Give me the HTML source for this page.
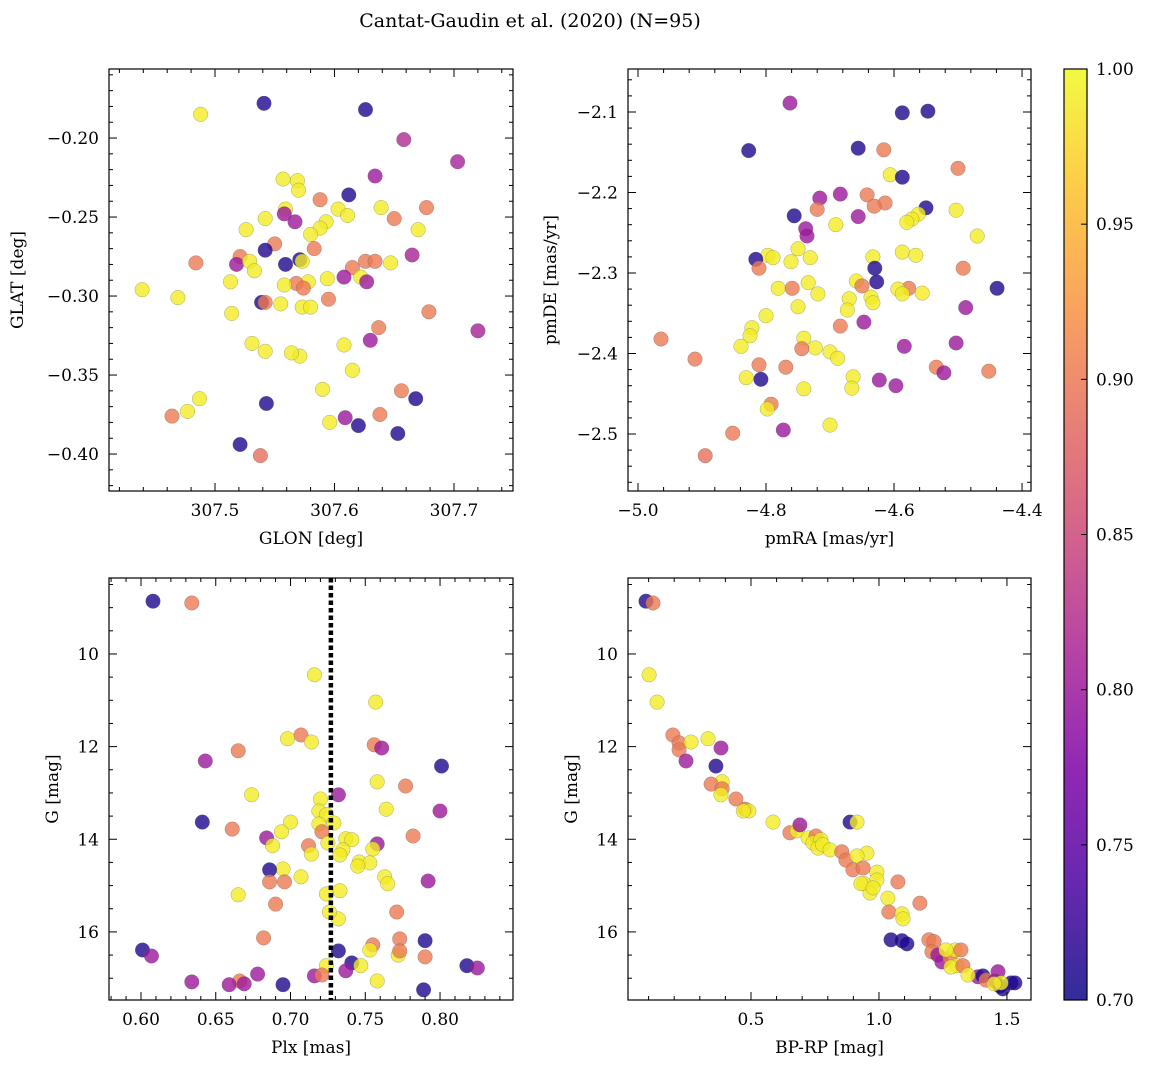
<!DOCTYPE html>
<html><head><meta charset="utf-8">
<style>
html,body{margin:0;padding:0;background:#fff;}
svg{display:block;font-family:"DejaVu Serif","Liberation Serif",serif;}
</style></head>
<body>
<svg id="fig" width="1149" height="1068" viewBox="0 0 1149 1068" xmlns="http://www.w3.org/2000/svg">
<text x="530" y="27" font-size="19" text-anchor="middle">Cantat-Gaudin et al. (2020) (N=95)</text>
<defs>
<linearGradient id="plasma" x1="0" y1="1" x2="0" y2="0">
<stop offset="0" stop-color="#0d0887"/><stop offset="0.125" stop-color="#4c02a1"/><stop offset="0.25" stop-color="#7e03a8"/><stop offset="0.375" stop-color="#a92395"/><stop offset="0.5" stop-color="#cc4778"/><stop offset="0.625" stop-color="#e56b5d"/><stop offset="0.75" stop-color="#f89540"/><stop offset="0.875" stop-color="#fdc328"/><stop offset="1" stop-color="#f0f921"/>
</linearGradient>
</defs>
<g id="layer"></g>
</svg>
<script>
// ---- data ----
const glonValues=[307.488,307.541,307.626,307.658,307.703,307.634,307.557,307.569,307.570,307.612,307.588,307.639,307.677,307.559,307.603,307.611,307.558,307.650,307.542,307.567,307.593,307.526,307.588,307.580,307.670,307.550,307.583,307.542,307.521,307.484,307.518,307.529,307.559,307.571,307.573,307.533,307.615,307.626,307.634,307.647,307.622,307.608,307.665,307.594,307.578,307.568,307.558,307.574,307.513,307.439,307.627,307.469,307.595,307.539,307.542,307.555,307.573,307.580,307.514,307.679,307.720,307.637,307.630,307.531,307.608,307.542,307.571,307.564,307.615,307.656,307.590,307.487,307.668,307.543,307.477,307.464,307.638,307.609,307.596,307.620,307.653,307.521,307.538];
const glatValues=[-0.185,-0.178,-0.182,-0.201,-0.215,-0.224,-0.226,-0.227,-0.233,-0.236,-0.239,-0.244,-0.244,-0.245,-0.245,-0.249,-0.248,-0.251,-0.251,-0.253,-0.253,-0.258,-0.257,-0.261,-0.258,-0.267,-0.270,-0.271,-0.275,-0.279,-0.280,-0.278,-0.280,-0.277,-0.278,-0.284,-0.282,-0.278,-0.278,-0.279,-0.288,-0.288,-0.274,-0.289,-0.291,-0.292,-0.293,-0.295,-0.291,-0.296,-0.291,-0.301,-0.302,-0.304,-0.304,-0.305,-0.307,-0.307,-0.311,-0.310,-0.322,-0.320,-0.328,-0.330,-0.331,-0.335,-0.338,-0.336,-0.347,-0.360,-0.359,-0.365,-0.365,-0.368,-0.373,-0.376,-0.375,-0.377,-0.380,-0.382,-0.387,-0.394,-0.401];
const probA=[0.99,0.71,0.71,0.82,0.81,0.80,0.99,0.99,0.99,0.71,0.90,0.99,0.90,0.99,0.99,0.99,0.80,0.90,0.99,0.80,0.99,0.99,0.99,0.99,0.99,0.90,0.90,0.71,0.90,0.90,0.80,0.99,0.71,0.71,0.99,0.99,0.90,0.90,0.90,0.99,0.99,0.80,0.81,0.99,0.99,0.90,0.99,0.90,0.99,0.99,0.80,0.99,0.90,0.71,0.90,0.99,0.99,0.99,0.99,0.90,0.81,0.90,0.80,0.99,0.99,0.99,0.99,0.99,0.99,0.90,0.99,0.99,0.71,0.71,0.99,0.90,0.90,0.80,0.99,0.71,0.71,0.71,0.89];

const pmraValues=[-4.7625,-4.547,-4.587,-4.827,-4.656,-4.616,-4.500,-4.606,-4.587,-4.684,-4.716,-4.614,-4.642,-4.550,-4.503,-4.720,-4.631,-4.656,-4.562,-4.572,-4.756,-4.580,-4.691,-4.738,-4.736,-4.470,-4.750,-4.587,-4.797,-4.566,-4.816,-4.633,-4.731,-4.789,-4.761,-4.811,-4.630,-4.492,-4.734,-4.659,-4.627,-4.781,-4.759,-4.650,-4.577,-4.594,-4.587,-4.556,-4.719,-4.439,-4.636,-4.670,-4.633,-4.750,-4.488,-4.673,-4.800,-4.822,-4.647,-4.684,-4.825,-4.741,-4.839,-4.964,-4.723,-4.744,-4.584,-4.503,-4.700,-4.688,-4.911,-4.811,-4.769,-4.534,-4.452,-4.522,-4.831,-4.664,-4.808,-4.623,-4.597,-4.666,-4.741,-4.792,-4.798,-4.700,-4.773,-4.852,-4.895];
const pmdeValues=[-2.089,-2.099,-2.101,-2.148,-2.145,-2.147,-2.170,-2.178,-2.181,-2.202,-2.207,-2.213,-2.203,-2.219,-2.222,-2.221,-2.217,-2.230,-2.227,-2.233,-2.229,-2.237,-2.240,-2.245,-2.254,-2.254,-2.270,-2.274,-2.278,-2.278,-2.283,-2.280,-2.281,-2.281,-2.286,-2.294,-2.294,-2.294,-2.312,-2.310,-2.311,-2.319,-2.319,-2.316,-2.319,-2.320,-2.326,-2.325,-2.326,-2.319,-2.330,-2.332,-2.337,-2.342,-2.343,-2.346,-2.353,-2.368,-2.361,-2.366,-2.378,-2.381,-2.391,-2.382,-2.393,-2.394,-2.391,-2.387,-2.398,-2.406,-2.407,-2.414,-2.417,-2.417,-2.422,-2.424,-2.430,-2.429,-2.432,-2.433,-2.440,-2.443,-2.444,-2.463,-2.469,-2.489,-2.495,-2.499,-2.527];
const probB=[0.80,0.71,0.71,0.71,0.71,0.90,0.90,0.99,0.71,0.80,0.80,0.90,0.90,0.71,0.99,0.90,0.90,0.80,0.99,0.99,0.71,0.99,0.99,0.80,0.80,0.99,0.99,0.99,0.99,0.99,0.71,0.99,0.99,0.99,0.99,0.90,0.71,0.90,0.99,0.99,0.71,0.99,0.90,0.90,0.90,0.99,0.99,0.99,0.99,0.71,0.99,0.99,0.99,0.99,0.80,0.99,0.99,0.99,0.80,0.90,0.99,0.99,0.99,0.90,0.99,0.90,0.80,0.80,0.99,0.99,0.90,0.90,0.90,0.90,0.90,0.80,0.99,0.99,0.71,0.80,0.80,0.99,0.99,0.90,0.99,0.99,0.80,0.90,0.89];

const plxValues=[0.608,0.634,0.716,0.757,0.707,0.698,0.714,0.756,0.665,0.761,0.643,0.801,0.758,0.777,0.732,0.674,0.720,0.764,0.800,0.719,0.724,0.641,0.700,0.719,0.729,0.661,0.694,0.721,0.782,0.684,0.737,0.741,0.758,0.712,0.725,0.688,0.735,0.755,0.714,0.733,0.746,0.753,0.745,0.695,0.686,0.763,0.707,0.765,0.792,0.686,0.696,0.733,0.724,0.665,0.690,0.771,0.732,0.726,0.682,0.773,0.790,0.755,0.732,0.601,0.607,0.772,0.773,0.753,0.790,0.724,0.741,0.747,0.818,0.825,0.737,0.716,0.721,0.678,0.666,0.669,0.634,0.659,0.695,0.758,0.789];
const gPlxValues=[8.86,8.90,10.45,11.04,11.75,11.83,11.90,11.96,12.09,12.03,12.31,12.42,12.76,12.85,13.04,13.04,13.13,13.35,13.39,13.39,13.47,13.63,13.63,13.67,13.65,13.78,13.84,13.84,13.93,13.97,13.99,14.01,14.10,14.14,14.08,14.14,14.23,14.21,14.32,14.34,14.49,14.51,14.58,14.64,14.66,14.81,14.81,14.96,14.90,14.92,14.92,15.11,15.18,15.20,15.40,15.57,15.72,15.57,16.13,16.15,16.19,16.28,16.41,16.39,16.52,16.50,16.41,16.39,16.54,16.73,16.67,16.73,16.73,16.78,16.84,16.95,16.93,16.91,17.06,17.12,17.08,17.14,17.14,17.06,17.25];
const probC=[0.71,0.90,0.99,0.99,0.90,0.99,0.99,0.90,0.90,0.80,0.80,0.71,0.99,0.90,0.80,0.99,0.99,0.99,0.80,0.99,0.99,0.71,0.99,0.99,0.99,0.90,0.99,0.90,0.90,0.80,0.99,0.99,0.80,0.90,0.99,0.99,0.99,0.99,0.99,0.99,0.99,0.99,0.99,0.99,0.71,0.99,0.99,0.99,0.80,0.90,0.90,0.99,0.99,0.99,0.90,0.90,0.99,0.99,0.90,0.90,0.71,0.90,0.71,0.71,0.80,0.99,0.90,0.99,0.90,0.99,0.71,0.99,0.71,0.80,0.80,0.80,0.90,0.80,0.90,0.80,0.80,0.80,0.71,0.99,0.71];

const bprpValues=[0.090,0.117,0.102,0.133,0.195,0.219,0.219,0.266,0.332,0.383,0.246,0.363,0.387,0.344,0.387,0.383,0.441,0.477,0.492,0.470,0.887,0.914,0.586,0.652,0.680,0.691,0.723,0.754,0.742,0.773,0.762,0.780,0.809,0.855,0.871,0.953,0.914,0.898,0.938,0.992,0.992,1.074,0.941,0.965,0.930,0.977,1.035,1.039,1.090,1.094,1.160,1.047,1.090,1.109,1.195,1.215,1.207,1.230,1.246,1.277,1.297,1.320,1.262,1.305,1.281,1.328,1.387,1.406,1.418,1.453,1.465,1.473,1.484,1.516,1.531,1.477,1.450,1.348];
const gBprpValues=[8.86,8.90,10.45,11.04,11.75,11.92,12.07,11.90,11.83,12.03,12.31,12.42,12.76,12.81,12.91,13.04,13.13,13.35,13.39,13.39,13.63,13.63,13.63,13.86,13.82,13.69,13.97,13.93,14.08,14.01,14.19,14.12,14.23,14.27,14.45,14.30,14.36,14.66,14.62,14.71,14.88,14.92,14.96,15.16,14.96,15.05,15.27,15.57,15.61,15.72,15.38,16.17,16.19,16.26,16.17,16.21,16.43,16.50,16.65,16.56,16.39,16.39,16.39,16.73,16.76,16.73,16.97,16.95,17.04,17.06,16.86,17.17,17.23,17.10,17.10,17.10,17.12,16.93];
const probD=[0.71,0.90,0.99,0.99,0.90,0.90,0.90,0.99,0.99,0.80,0.80,0.71,0.99,0.90,0.90,0.99,0.90,0.90,0.99,0.99,0.71,0.99,0.99,0.90,0.99,0.80,0.99,0.90,0.99,0.99,0.99,0.99,0.99,0.90,0.90,0.99,0.99,0.90,0.90,0.99,0.99,0.90,0.99,0.99,0.99,0.99,0.99,0.90,0.99,0.99,0.90,0.71,0.71,0.71,0.90,0.90,0.90,0.80,0.80,0.90,0.99,0.90,0.99,0.99,0.99,0.90,0.80,0.71,0.90,0.80,0.80,0.71,0.71,0.71,0.71,0.99,0.99,0.99];

const plxLine=[0.727];
const cbarTicks=[0.70,0.75,0.80,0.85,0.90,0.95,1.00];

// ---- drawing ----
const NS="http://www.w3.org/2000/svg";
const layer=document.getElementById('layer');
function mk(tag,attrs,parent){const e=document.createElementNS(NS,tag);for(const k in attrs)e.setAttribute(k,attrs[k]);(parent||layer).appendChild(e);return e;}
const stops=[[0,[13,8,135]],[0.125,[76,2,161]],[0.25,[126,3,168]],[0.375,[169,35,149]],[0.5,[204,71,120]],[0.625,[229,107,93]],[0.75,[248,149,64]],[0.875,[253,195,40]],[1,[240,249,33]]];
function plasma(p){let t=Math.max(0,Math.min(1,(p-0.7)/0.3));for(let i=1;i<stops.length;i++){if(t<=stops[i][0]){const a=stops[i-1],b=stops[i];const f=(t-a[0])/(b[0]-a[0]);const c=a[1].map((v,j)=>Math.round(v+(b[1][j]-v)*f));return `rgb(${c})`;}}return 'rgb(240,249,33)';}

function panel(cfg){
  const g=mk('g',{});
  
  
  const {x0,x1,y0,y1,xd,yd}=cfg;
  const sx=v=>x0+(v-xd[0])/(xd[1]-xd[0])*(x1-x0);
  const sy=v=>y0+(v-yd[0])/(yd[1]-yd[0])*(y1-y0);
  const pg=mk('g',{},g);
  
  
  cfg.xs.forEach((xv,i)=>{
    const c=mk('circle',{cx:sx(xv).toFixed(1),cy:sy(cfg.ys[i]).toFixed(1),r:7.3,fill:plasma(cfg.ps[i]),'fill-opacity':0.8,stroke:'#555','stroke-width':0.4,'stroke-opacity':0.6},pg);
    
    
  });
  if(cfg.vline){cfg.vline.forEach(v=>{const l=mk('line',{x1:sx(v),x2:sx(v),y1:y0,y2:y1,stroke:'#000','stroke-width':4.5,'stroke-dasharray':'4.5 3'},g);
    
    });}
  const fr=mk('rect',{x:x0,y:y0,width:x1-x0,height:y1-y0,fill:'none',stroke:'#000','stroke-width':1.2},g);
  
  
  const yt=Math.min(y0,y1),yb=Math.max(y0,y1);
  const xmin=Math.min(xd[0],xd[1]),xmax=Math.max(xd[0],xd[1]);
  for(let k=Math.ceil(xmin/cfg.xminor-1e-6);k*cfg.xminor<=xmax+1e-9;k++){
    const v=k*cfg.xminor;const isMaj=Math.abs(v/cfg.xmajor-Math.round(v/cfg.xmajor))<1e-6;const L=isMaj?8:4;const px=sx(v);
    mk('line',{x1:px,x2:px,y1:yb,y2:yb-L,stroke:'#000','stroke-width':1},g);
    mk('line',{x1:px,x2:px,y1:yt,y2:yt+L,stroke:'#000','stroke-width':1},g);
    if(isMaj){const t=mk('text',{x:px,y:yb+25,'font-size':17,'text-anchor':'middle'},g);t.textContent=cfg.xfmt(v);
      
      }
  }
  const ymin=Math.min(yd[0],yd[1]),ymax=Math.max(yd[0],yd[1]);
  for(let k=Math.ceil(ymin/cfg.yminor-1e-6);k*cfg.yminor<=ymax+1e-9;k++){
    const v=k*cfg.yminor;const isMaj=Math.abs(v/cfg.ymajor-Math.round(v/cfg.ymajor))<1e-6;const L=isMaj?8:4;const py=sy(v);
    mk('line',{x1:x0,x2:x0+L,y1:py,y2:py,stroke:'#000','stroke-width':1},g);
    mk('line',{x1:x1,x2:x1-L,y1:py,y2:py,stroke:'#000','stroke-width':1},g);
    if(isMaj){const t=mk('text',{x:x0-10,y:py+6,'font-size':17,'text-anchor':'end'},g);t.textContent=cfg.yfmt(v);
      
      }
  }
  const xl=mk('text',{x:(x0+x1)/2,y:yb+53,'font-size':17,'text-anchor':'middle'},g);xl.textContent=cfg.xlabel;
  
  
  const yx=cfg.ylabx,ym=(yt+yb)/2;
  const yl=mk('text',{x:yx,y:ym,'font-size':17,'text-anchor':'middle',transform:`rotate(-90 ${yx} ${ym})`},g);yl.textContent=cfg.ylabel;
  
  
}
const minus=s=>s.replace('-','\u2212');
panel({name:'glon-glat-panel',x0:109,x1:513,y0:69,y1:491,xd:[307.4113,307.7494],yd:[-0.1563,-0.4234],xs:glonValues,ys:glatValues,ps:probA,xmajor:0.1,xminor:0.02,ymajor:0.05,yminor:0.01,xfmt:v=>v.toFixed(1),yfmt:v=>minus(v.toFixed(2)),xlabel:'GLON [deg]',ylabel:'GLAT [deg]',ylabx:23});
panel({name:'proper-motion-panel',x0:628,x1:1031,y0:69,y1:491,xd:[-5.0156,-4.386],yd:[-2.0466,-2.5708],xs:pmraValues,ys:pmdeValues,ps:probB,xmajor:0.2,xminor:0.04,ymajor:0.1,yminor:0.02,xfmt:v=>minus(v.toFixed(1)),yfmt:v=>minus(v.toFixed(1)),xlabel:'pmRA [mas/yr]',ylabel:'pmDE [mas/yr]',ylabx:556});
panel({name:'parallax-magnitude-panel',x0:109,x1:513,y0:578,y1:1000,xd:[0.5786,0.8488],yd:[8.36,17.47],xs:plxValues,ys:gPlxValues,ps:probC,vline:plxLine,xmajor:0.05,xminor:0.01,ymajor:2,yminor:0.5,xfmt:v=>v.toFixed(2),yfmt:v=>v.toFixed(0),xlabel:'Plx [mas]',ylabel:'G [mag]',ylabx:58});
panel({name:'color-magnitude-panel',x0:628,x1:1031,y0:578,y1:1000,xd:[0.0195,1.594],yd:[8.36,17.47],xs:bprpValues,ys:gBprpValues,ps:probD,xmajor:0.5,xminor:0.1,ymajor:2,yminor:0.5,xfmt:v=>v.toFixed(1),yfmt:v=>v.toFixed(0),xlabel:'BP-RP [mag]',ylabel:'G [mag]',ylabx:577});

const cb=mk('g',{});


const cbx=1064,cbw=23,cby0=69,cby1=1000;
mk('rect',{x:cbx,y:cby0,width:cbw,height:cby1-cby0,fill:'url(#plasma)','fill-opacity':0.85,stroke:'#000','stroke-width':1.2},cb);
cbarTicks.forEach(v=>{const py=cby1-(v-0.7)/0.3*(cby1-cby0);
  mk('line',{x1:cbx+cbw,x2:cbx+cbw-6,y1:py,y2:py,stroke:'#000','stroke-width':1},cb);
  const t=mk('text',{x:cbx+cbw+9,y:py+6,'font-size':17},cb);t.textContent=v.toFixed(2);
  
  });
</script>
</body></html>
